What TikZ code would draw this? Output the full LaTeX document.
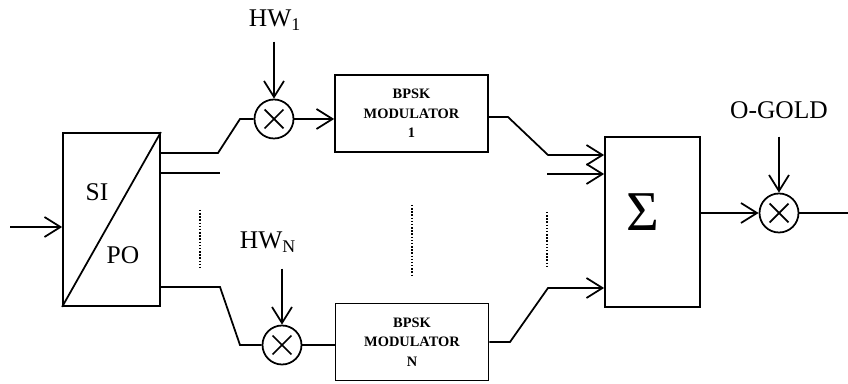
\documentclass[tikz,border=0pt]{standalone}
\usepackage{fontspec}
\setmainfont{Liberation Serif}
\usetikzlibrary{arrows.meta,calc}

\begin{document}
\begin{tikzpicture}[x=0.02cm,y=-0.02cm,line width=1pt,
  >={Straight Barb[length=3.2mm,width=4mm]},
  mixer/.style={draw,circle,inner sep=0pt,minimum size=0.78cm},
  modbox/.style={draw,inner sep=0pt,minimum width=3.06cm,minimum height=1.54cm,align=center,
    font=\fontsize{8.2}{11}\selectfont\bfseries},
  lbl/.style={font=\fontsize{14.5}{16}\selectfont}]
\useasboundingbox (0,0) rectangle (848,384);
% blocks
\node[draw,inner sep=0pt,minimum width=1.94cm,minimum height=3.46cm] (sp) at (111.5,219.5) {};
\draw (sp.south west) -- (sp.north east);
\node[lbl] (si) at (97,192) {SI}; \node[lbl] (po) at (123,255) {PO};
\node[modbox] (mod1) at (411.5,113.5) {BPSK\\MODULATOR\\1};
\node[modbox] (modN) at (412,342) {BPSK\\MODULATOR\\N};
\node[draw,inner sep=0pt,minimum width=1.9cm,minimum height=3.4cm] (sum) at (652.5,222) {};
\node[font=\fontsize{32}{32}\selectfont] (sig) at (643,212) {Σ};
% mixers
\node[mixer] (m1) at (274,119) {}; \node[mixer] (mN) at (282,345) {}; \node[mixer] (mo) at (779,213) {};
\foreach \m in {m1,mN,mo}{
  \draw[shorten <=1.4mm,shorten >=1.4mm] (\m.north west) -- (\m.south east);
  \draw[shorten <=1.4mm,shorten >=1.4mm] (\m.south west) -- (\m.north east);
}
\node[lbl] (hw1) at (275,20) {HW\textsubscript{1}};
\node[lbl] (hwN) at (268,242) {HW\textsubscript{N}};
\node[lbl] (gold) at (779,110) {O-GOLD};
\coordinate (in) at (10,227); \coordinate (out) at (848,213);
% connectors
\draw[->] (in) -- (sp.west |- in);
\draw (sp.east |- 0,153) -- (218,153) -- (240,119) -- (m1);
\draw (sp.east |- 0,173) -- (220,173);
\draw (sp.east |- 0,287) -- (220,287) -- (240,345) -- (mN);
\draw[->] (m1.north) ++(0,-57) -- (m1.north);
\draw[->] (mN.north) ++(0,-56) -- (mN.north);
\draw[->] (mo.north) ++(0,-56) -- (mo.north);
\draw[->] (m1) -- (m1 -| mod1.west);
\draw (mN) -- (mN -| modN.west);
\draw[->] (mod1.east |- 0,117) -- (508,117) -- (548,155) -- (sum.west |- 0,155);
\draw[->] (547,174) -- (sum.west |- 0,174);
\draw[->] (modN.east) -- (510,342) -- (548,288) -- (sum.west |- 0,288);
\draw[->] (sum.east |- mo) -- (mo);
\draw (mo) -- (out);
% dots
\draw[densely dotted,line width=0.8pt] (200,210) -- (200,267);
\draw[densely dotted,line width=0.8pt] (412,205) -- (412,275);
\draw[densely dotted,line width=0.8pt] (547,212) -- (547,267);
\end{tikzpicture}
\end{document}
